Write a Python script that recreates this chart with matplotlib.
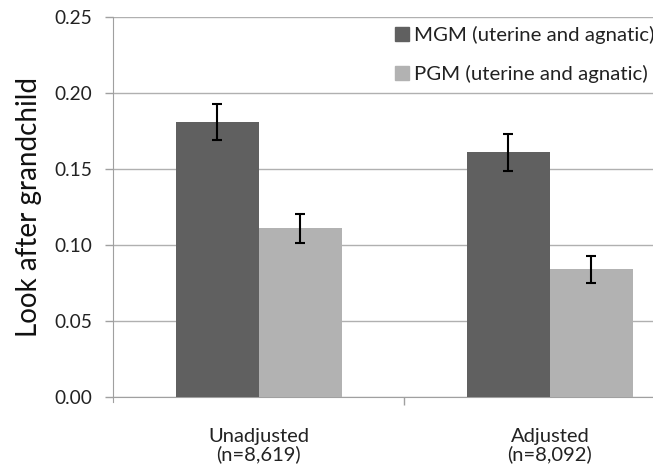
import numpy as np
import matplotlib.pyplot as plt
from matplotlib.patches import Patch

# values
groups = ['Unadjusted\n(n=8,619)', 'Adjusted\n(n=8,092)']
mgm = [0.181, 0.161]
mgm_err = [0.012, 0.012]
pgm = [0.111, 0.084]
pgm_err = [0.0095, 0.009]
yticks = [0.00, 0.05, 0.10, 0.15, 0.20, 0.25]

dark = '#606060'
light = '#b2b2b2'

plt.rcParams['font.family'] = ['Lato', 'DejaVu Sans']

fig = plt.figure(figsize=(6.53, 4.70), dpi=100)
ax = fig.add_axes([0.173, 0.1553, 0.827, 0.8085])

x = np.arange(len(groups))
w = 0.285
ekw = dict(ecolor='black', elinewidth=1.5, capthick=1.5)
ax.bar(x - w / 2, mgm, w, color=dark, yerr=mgm_err, capsize=3.8,
       error_kw=ekw, zorder=3, label='MGM (uterine and agnatic)')
ax.bar(x + w / 2, pgm, w, color=light, yerr=pgm_err, capsize=3.8,
       error_kw=ekw, zorder=3, label='PGM (uterine and agnatic)')

ax.set_xlim(-0.5, 1.354)
ax.set_ylim(0, 0.25)
ax.set_yticks(yticks)
ax.set_yticklabels(['%.2f' % v for v in yticks], fontsize=13.8, color='#222222')
ax.yaxis.grid(True, color='#b0b0b0', linewidth=1, zorder=0)
ax.set_axisbelow(True)

ax.set_xticks(x)
ax.set_xticklabels(groups, fontsize=14.5, color='#222222', linespacing=1.05)
ax.tick_params(axis='x', which='major', length=0, pad=22)
ax.set_xticks([0.5], minor=True)
ax.tick_params(axis='x', which='minor', length=6, color='#a0a0a0', width=1)
ax.tick_params(axis='y', length=6, color='#a0a0a0', width=1, pad=9)

for s in ['top', 'right']:
    ax.spines[s].set_visible(False)
ax.spines['left'].set_color('#a0a0a0')
ax.spines['bottom'].set_color('#a0a0a0')
ax.spines['left'].set_bounds(-0.003, 0.25)

ax.set_ylabel('Look after grandchild', fontsize=20, color='#111111', labelpad=9)

handles = [Patch(color=dark), Patch(color=light)]
ax.legend(handles, ['MGM (uterine and agnatic)', 'PGM (uterine and agnatic)'],
          loc='upper right', bbox_to_anchor=(1.017, 0.997), frameon=False,
          fontsize=14.7, handlelength=0.7, handleheight=0.7, handletextpad=0.2,
          labelspacing=1.0, borderaxespad=0.0, labelcolor='#222222')

fig.savefig('out.png', dpi=100)
